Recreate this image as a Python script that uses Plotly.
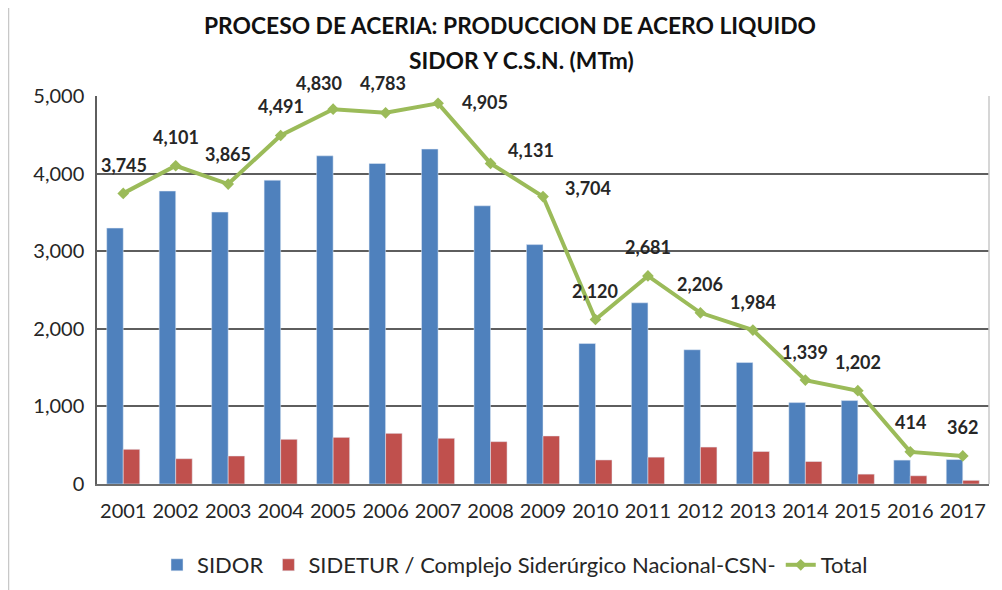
import plotly.graph_objects as go

years = ["2001", "2002", "2003", "2004", "2005", "2006", "2007", "2008", "2009",
         "2010", "2011", "2012", "2013", "2014", "2015", "2016", "2017"]
sidor = [3298, 3775, 3504, 3915, 4229, 4130, 4316, 3585, 3085,
         1810, 2335, 1730, 1565, 1049, 1075, 308, 315]
csn = [447, 326, 361, 576, 601, 653, 589, 546, 619,
       310, 346, 476, 419, 290, 127, 106, 47]
total = [3745, 4101, 3865, 4491, 4830, 4783, 4905, 4131, 3704,
         2120, 2681, 2206, 1984, 1339, 1202, 414, 362]

# label offsets in pixels (dx, dy)
label_dx = [1, 0, 0, 0, -14, -3, 47, 40, 45, 0, 0, 0, 0, 0, 0, 0, 0]
label_dy = [28, 29, 30, 30, 26, 30, 1, 13, 9, 28, 29, 29, 28, 28, 29, 30, 29]

FONT = "Lato"
fig = go.Figure()
fig.add_trace(go.Bar(x=years, y=sidor, name="SIDOR", marker_color="#4F81BD"))
fig.add_trace(go.Bar(x=years, y=csn, name="SIDETUR / Complejo Siderúrgico Nacional-CSN-",
                     marker_color="#C0504D"))
fig.add_trace(go.Scatter(x=years, y=total, name="Total", mode="lines+markers",
                         line=dict(color="#9BBB59", width=4),
                         marker=dict(symbol="diamond", size=9, color="#9BBB59")))

for i, (v, dx, dy) in enumerate(zip(total, label_dx, label_dy)):
    fig.add_annotation(x=i, y=v, text=f"{v:,}", showarrow=False, xshift=dx, yshift=dy,
                       font=dict(family=FONT, size=18, color="#262626", weight="bold"))

# title (two lines)
fig.add_annotation(xref="paper", yref="paper", x=(510 - 97) / 892, y=(484 - 25) / 388,
                   text="<b>PROCESO DE ACERIA: PRODUCCION DE ACERO LIQUIDO</b>", showarrow=False,
                   xanchor="center", yanchor="middle", font=dict(family=FONT, size=22.8, color="#111"))
fig.add_annotation(xref="paper", yref="paper", x=(521 - 97) / 892, y=(484 - 60) / 388,
                   text="<b>SIDOR Y C.S.N. (MTm)</b>", showarrow=False,
                   xanchor="center", yanchor="middle", font=dict(family=FONT, size=22.8, color="#111"))

# outer frame and right plot edge
fig.add_shape(type="rect", xref="paper", yref="paper", x0=-88.5 / 892, x1=(998 - 97) / 892,
              y0=(484 - 600) / 388, y1=(484 - 2) / 388, line=dict(color="#c8c8c8", width=1.5),
              layer="below")
fig.add_shape(type="line", xref="paper", yref="paper", x0=1, x1=1, y0=0, y1=1,
              line=dict(color="#c8c8c8", width=1.5))

fig.update_layout(
    width=994, height=582,
    margin=dict(l=89, r=13, t=88, b=106, autoexpand=False),
    paper_bgcolor="white", plot_bgcolor="white",
    barmode="group", bargap=0.37, bargroupgap=0,
    font=dict(family=FONT, size=20, color="#262626"),
    showlegend=True,
    legend=dict(orientation="h", x=(515 - 97) / 892, xanchor="center",
                y=(484 - 565) / 388, yanchor="middle", font=dict(size=22),
                traceorder="normal", itemwidth=30),
    xaxis=dict(type="category", range=[-0.5, len(years) - 0.5], showline=True,
               linecolor="#6d6d6d", linewidth=1.5, automargin=False,
               ticks="", tickfont=dict(size=20), showgrid=False, ticklabelstandoff=8),
    yaxis=dict(range=[0, 5000], tickvals=[0, 1000, 2000, 3000, 4000, 5000], tickformat=",",
               showgrid=True, gridcolor="#5e5e5e", gridwidth=1.5, zeroline=False,
               showline=True, linecolor="#5e5e5e", linewidth=1.5, automargin=False,
               ticks="", tickfont=dict(size=20), ticklabelstandoff=7),
)

fig.write_html("out.html")
